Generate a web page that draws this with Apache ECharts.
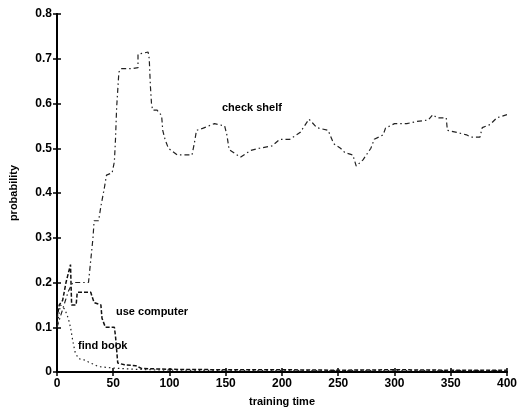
<!DOCTYPE html>
<html>
<head>
<meta charset="utf-8">
<script src="https://cdn.jsdelivr.net/npm/echarts@6/dist/echarts.min.js"></script>
<style>html,body{margin:0;padding:0;background:#fff}#c{width:520px;height:412px}</style>
</head>
<body>
<div id="c"></div>
<script>
var xTicks = [0, 50, 100, 150, 200, 250, 300, 350, 400];
var yTicks = [0, 0.1, 0.2, 0.3, 0.4, 0.5, 0.6, 0.7, 0.8];

var checkShelfT = [0,5,10,14,28,30,32,33,37,39,42,44,49,51,52,53,54,55,57,67,72,72,81,82,83,84,85,89,93,94,96,99,107,120,122,124,130,140,149,151,153,163,172,180,191,198,207,216,220,224,227,231,241,246,252,256,263,266,272,279,282,290,292,300,311,320,330,334,338,346,347,356,364,368,376,378,385,391,400];
var checkShelfP = [0.1,0.14,0.18,0.2,0.2,0.25,0.3,0.338,0.338,0.37,0.41,0.44,0.445,0.47,0.52,0.59,0.63,0.67,0.678,0.678,0.68,0.71,0.715,0.70,0.64,0.60,0.585,0.585,0.573,0.54,0.52,0.50,0.485,0.485,0.51,0.54,0.545,0.555,0.55,0.53,0.497,0.48,0.495,0.50,0.505,0.52,0.52,0.535,0.55,0.565,0.557,0.546,0.54,0.51,0.50,0.49,0.485,0.46,0.474,0.50,0.52,0.53,0.545,0.555,0.555,0.56,0.563,0.575,0.568,0.568,0.54,0.535,0.53,0.525,0.525,0.546,0.553,0.568,0.575];

var useComputerT = [0,2,5,8,10,12,13,17,18,30,31,33,39,40,43,51,52,53,54,60,70,75,100,150,200,250,300,350,400];
var useComputerP = [0.12,0.15,0.16,0.2,0.22,0.24,0.15,0.15,0.178,0.178,0.17,0.155,0.15,0.12,0.10,0.10,0.08,0.05,0.02,0.016,0.014,0.008,0.006,0.005,0.005,0.004,0.005,0.004,0.004];

var findBookT = [0,3,7,10,12,14,16,19,24,30,37,45,55,70,100,200,300,400];
var findBookP = [0.1,0.15,0.14,0.12,0.1,0.07,0.045,0.03,0.027,0.02,0.012,0.01,0.008,0.006,0.004,0.003,0.003,0.003];

function pairs(t, p) { return t.map(function (v, i) { return [v, p[i]]; }); }

var chart = echarts.init(document.getElementById('c'), null, { renderer: 'canvas' });
var axisFont = { fontFamily: 'Liberation Sans, Arial, sans-serif', fontSize: 12, fontWeight: 'bold', color: '#000' };
var lineStyleAxis = { color: '#000', width: 2 };

chart.setOption({
  animation: false,
  backgroundColor: '#fff',
  grid: { left: 57, right: 13, top: 14, bottom: 40, containLabel: false },
  xAxis: [{
    type: 'value', min: 0, max: 400, interval: 50,
    axisLine: { show: true, lineStyle: lineStyleAxis },
    axisTick: { show: true, inside: true, length: 4, lineStyle: { color: '#000', width: 1.5 } },
    axisLabel: Object.assign({ margin: 6, formatter: function (v) { return xTicks.indexOf(v) >= 0 ? String(v) : ''; } }, axisFont),
    splitLine: { show: false },
    name: 'training time', nameLocation: 'middle', nameGap: 24,
    nameTextStyle: { fontFamily: 'Liberation Sans, Arial, sans-serif', fontSize: 11, fontWeight: 'bold', color: '#000' }
  }, {
    type: 'value', min: 0, max: 400, interval: 50, position: 'top',
    axisLine: { show: true, lineStyle: lineStyleAxis },
    axisTick: { show: true, inside: true, length: 4, lineStyle: { color: '#000', width: 1.5 } },
    axisLabel: { show: false }, splitLine: { show: false }
  }],
  yAxis: [{
    type: 'value', min: 0, max: 0.8, interval: 0.1,
    axisLine: { show: true, lineStyle: lineStyleAxis },
    axisTick: { show: true, inside: true, length: 4, lineStyle: { color: '#000', width: 1.5 } },
    axisLabel: Object.assign({ margin: 5, formatter: function (v) {
      var r = Math.round(v * 10) / 10;
      return r === 0 ? '0' : r.toFixed(1);
    } }, axisFont),
    splitLine: { show: false },
    name: 'probability', nameLocation: 'middle', nameGap: 38, nameRotate: 90,
    nameTextStyle: { fontFamily: 'Liberation Sans, Arial, sans-serif', fontSize: 11, fontWeight: 'bold', color: '#000' }
  }, {
    type: 'value', min: 0, max: 0.8, interval: 0.1, position: 'right',
    axisLine: { show: true, lineStyle: lineStyleAxis },
    axisTick: { show: true, inside: true, length: 4, lineStyle: { color: '#000', width: 1.5 } },
    axisLabel: { show: false }, splitLine: { show: false }
  }],
  series: [{
    name: 'check shelf', type: 'line', xAxisIndex: 0, yAxisIndex: 0,
    data: pairs(checkShelfT, checkShelfP), showSymbol: false,
    lineStyle: { color: '#222', width: 1.2, type: [5, 3, 1.5, 3] }
  }, {
    name: 'use computer', type: 'line', xAxisIndex: 0, yAxisIndex: 0,
    data: pairs(useComputerT, useComputerP), showSymbol: false,
    lineStyle: { color: '#111', width: 1.5, type: [4, 2] }
  }, {
    name: 'find book', type: 'line', xAxisIndex: 0, yAxisIndex: 0,
    data: pairs(findBookT, findBookP), showSymbol: false,
    lineStyle: { color: '#222', width: 1.2, type: [1.5, 3] }
  }],
  graphic: [
    { type: 'text', left: 222, top: 102, style: { text: 'check shelf', font: 'bold 11px Liberation Sans, Arial, sans-serif', fill: '#000' } },
    { type: 'text', left: 116, top: 306, style: { text: 'use computer', font: 'bold 11px Liberation Sans, Arial, sans-serif', fill: '#000' } },
    { type: 'text', left: 78, top: 340, style: { text: 'find book', font: 'bold 11px Liberation Sans, Arial, sans-serif', fill: '#000' } }
  ]
});
</script>
</body>
</html>
